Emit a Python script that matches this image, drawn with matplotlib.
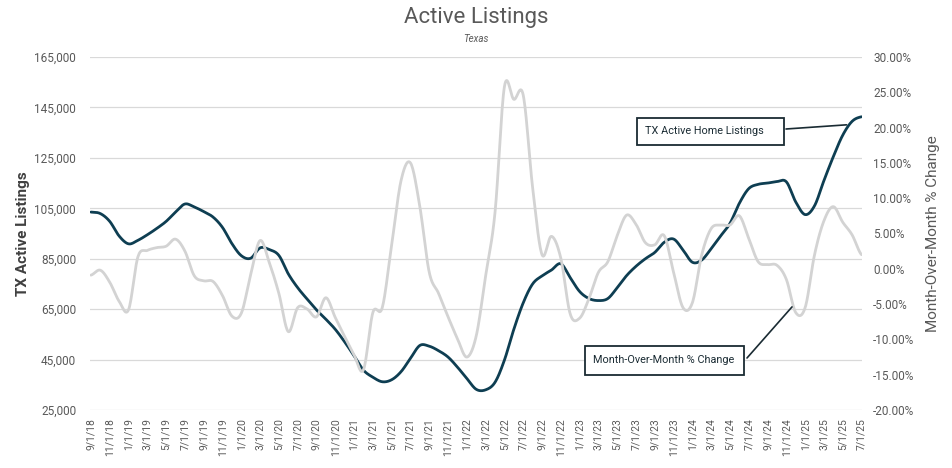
import numpy as np
import matplotlib
matplotlib.use('Agg')
import matplotlib.pyplot as plt
from matplotlib.patches import Rectangle
from matplotlib.ticker import FuncFormatter, FixedLocator

plt.rcParams['font.family'] = ['Roboto', 'DejaVu Sans']

# monthly, 9/1/18 .. 7/1/25
months = []
y, m = 2018, 9
while (y, m) <= (2025, 7):
    months.append(f"{m}/1/{y % 100:02d}")
    m += 1
    if m > 12:
        m, y = 1, y + 1

listings = [103500, 102900, 99800, 94000, 90900, 92300, 94500, 97000, 99800, 103500,
            106700, 105500, 103700, 101500, 97400, 91000, 86200, 85200, 89300, 88600,
            86300, 79000, 73500, 69000, 64700, 61000, 57000, 52000, 46500, 40800,
            38000, 36200, 37000, 40200, 45500, 50600, 50300, 48500, 46000, 42000,
            37500, 33200, 33000, 36000, 44800, 57000, 67500, 75000, 78200, 80500,
            83000, 77500, 72000, 69200, 68400, 69200, 73500, 78300, 82000, 85000,
            87500, 91500, 92800, 88500, 83600, 84500, 89000, 94000, 99000, 107000,
            112800, 114500, 115000, 115600, 115500, 107500, 102500, 106000, 116000, 125500,
            134000, 139500, 141300]

mom_pct = [-0.9, -0.2, -1.9, -4.6, -5.8, 1.7, 2.6, 3.0, 3.2, 4.2,
           2.5, -1.0, -1.7, -1.8, -3.8, -6.7, -6.3, -0.8, 4.0, 0.8,
           -3.5, -8.9, -5.5, -5.7, -6.8, -4.1, -6.9, -9.6, -12.2, -14.3,
           -6.2, -5.5, 3.4, 12.5, 15.0, 8.8, -0.5, -3.5, -6.8, -9.9,
           -12.5, -9.5, -1.0, 8.0, 25.8, 24.0, 24.6, 11.5, 2.0, 4.6,
           1.5, -6.4, -7.0, -4.2, -0.5, 1.0, 4.7, 7.6, 6.3, 3.7,
           3.4, 4.7, -0.5, -5.5, -4.8, 2.0, 5.7, 6.2, 6.2, 7.5,
           4.3, 1.0, 0.6, 0.5, -1.5, -6.2, -5.5, 2.0, 6.8, 8.8,
           6.6, 4.8, 2.0]

left_ticks = [25000, 45000, 65000, 85000, 105000, 125000, 145000, 165000]
right_ticks = [-20, -15, -10, -5, 0, 5, 10, 15, 20, 25, 30]

DARK = '#0E3E52'
GRAY_LINE = '#D3D3D3'
TXT = '#595959'
BOX = '#1A2B33'
W, H = 952, 468


def smooth(vals, n=16):
    # excel-like smoothed line (bezier through the points)
    p = np.asarray(vals, dtype=float)
    xs, ys = [], []
    for i in range(len(p) - 1):
        p0 = p[i - 1] if i > 0 else p[i]
        p3 = p[i + 2] if i + 2 < len(p) else p[i + 1]
        c1 = p[i] + (p[i + 1] - p0) / 6
        c2 = p[i + 1] - (p3 - p[i]) / 6
        t = np.linspace(0, 1, n, endpoint=False)
        ys.append((1 - t)**3 * p[i] + 3 * (1 - t)**2 * t * c1 + 3 * (1 - t) * t**2 * c2 + t**3 * p[i + 1])
        xs.append(i + t)
    xs.append([len(p) - 1])
    ys.append([p[-1]])
    return np.concatenate(xs), np.concatenate(ys)


def fx(px):
    return px / W


def fy(py):
    return 1 - py / H


fig = plt.figure(figsize=(9.52, 4.68), dpi=100)
ax = fig.add_axes([fx(90), fy(410), 772 / W, 353 / H])
ax2 = ax.twinx()

x = np.arange(len(months))
sx, sy = smooth(listings)
ax.plot(sx, sy, color=DARK, linewidth=2.0, solid_capstyle='round')
px, py = smooth(mom_pct)
ax2.plot(px, py, color=GRAY_LINE, linewidth=2.0, solid_capstyle='round')

ax.set_xlim(-0.1, len(months) - 0.95)
ax.set_ylim(25000, 165000)
ax2.set_ylim(-20, 30)

ax.yaxis.set_major_locator(FixedLocator(left_ticks))
ax.yaxis.set_major_formatter(FuncFormatter(lambda v, _: f"{int(v):,}"))
ax2.yaxis.set_major_locator(FixedLocator(right_ticks))
ax2.yaxis.set_major_formatter(FuncFormatter(lambda v, _: f"{v:.2f}%"))

ax.set_xticks(x[::2])
ax.set_xticklabels(months[::2], rotation=90, fontsize=7.5, color=TXT)
ax.grid(axis='y', color='#D9D9D9', linewidth=0.9)
ax.set_axisbelow(True)

for a in (ax, ax2):
    for s in a.spines.values():
        s.set_visible(False)
    a.tick_params(length=0, colors=TXT, labelsize=8.5)
ax.tick_params(axis='y', pad=10)
ax2.tick_params(axis='y', pad=8)
ax.tick_params(axis='x', pad=6, labelsize=7.5)

ax.set_ylabel('TX Active Listings', fontsize=11, fontweight='bold', color='#404040', labelpad=3)
ax2.set_ylabel('Month-Over-Month % Change', fontsize=11, color=TXT, labelpad=8)

fig.text(0.5, fy(17), 'Active Listings', ha='center', va='center', fontsize=16, color=TXT)
fig.text(0.5, fy(39), 'Texas', ha='center', va='center', fontsize=7, style='italic', color=TXT)

# callout boxes
fig.patches.append(Rectangle((fx(637), fy(145)), 147 / W, 27 / H, transform=fig.transFigure,
                             fc='white', ec=BOX, lw=1.3, zorder=5))
fig.text(fx(645), fy(131), 'TX Active Home Listings', ha='left', va='center',
         fontsize=7.8, color=BOX, zorder=6)
fig.patches.append(Rectangle((fx(585), fy(375)), 159 / W, 29 / H, transform=fig.transFigure,
                             fc='white', ec=BOX, lw=1.3, zorder=5))
fig.text(fx(593), fy(360), 'Month-Over-Month % Change', ha='left', va='center',
         fontsize=7.8, color=BOX, zorder=6)

ax.annotate('', xy=(80.4, 138100), xytext=(fx(786), fy(129)), textcoords='figure fraction',
            arrowprops=dict(arrowstyle='-', color=BOX, lw=1.2, shrinkA=0, shrinkB=0))
ax2.annotate('', xy=(74.6, -5.4), xytext=(fx(747), fy(358)), textcoords='figure fraction',
             arrowprops=dict(arrowstyle='-', color=BOX, lw=1.2, shrinkA=0, shrinkB=0))

fig.savefig('out.png', dpi=100)
